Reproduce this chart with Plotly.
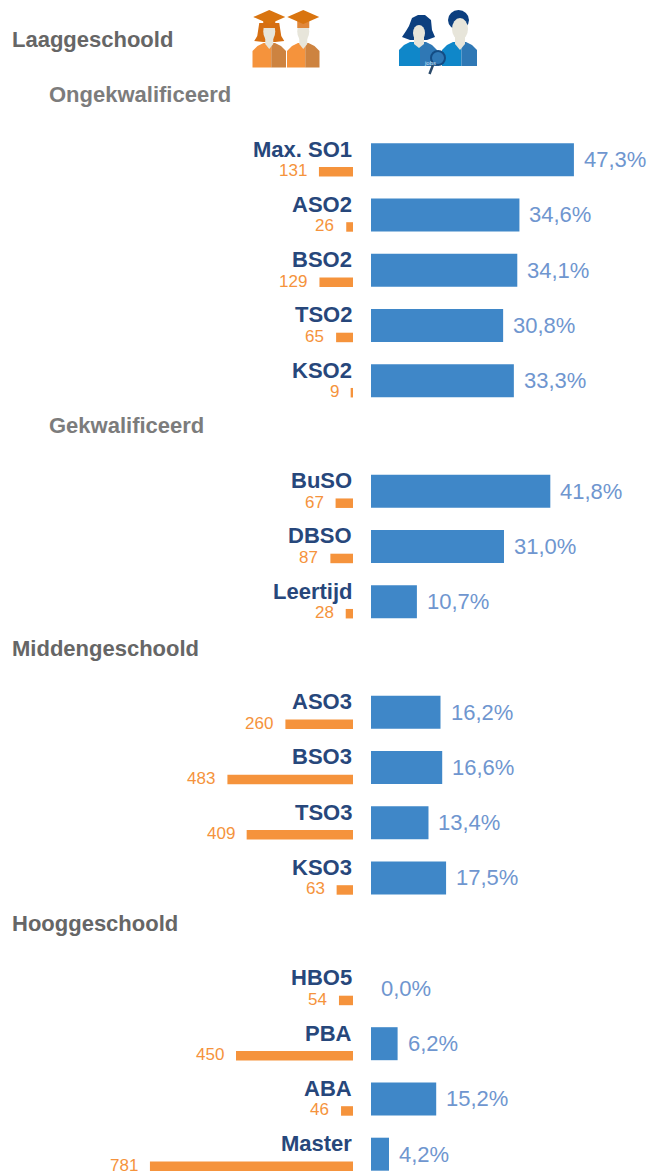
import plotly.graph_objects as go

W, H = 648, 1171
FONT = "Liberation Sans, Arial, sans-serif"

categories = ["Max. SO1", "ASO2", "BSO2", "TSO2", "KSO2",
              "BuSO", "DBSO", "Leertijd",
              "ASO3", "BSO3", "TSO3", "KSO3",
              "HBO5", "PBA", "ABA", "Master"]
rows = [0, 1, 2, 3, 4, 6, 7, 8, 10, 11, 12, 13, 15, 16, 17, 18]
graduates = [131, 26, 129, 65, 9, 67, 87, 28, 260, 483, 409, 63, 54, 450, 46, 781]
job_seekers = [47.3, 34.6, 34.1, 30.8, 33.3, 41.8, 31.0, 10.7,
               16.2, 16.6, 13.4, 17.5, 0.0, 6.2, 15.2, 4.2]
headers = [("Laaggeschoold", 10, 39, "#666666"),
           ("Ongekwalificeerd", 47, 95, "#7c7c7c"),
           ("Gekwalificeerd", 47, 425, "#7c7c7c"),
           ("Middengeschoold", 10, 648, "#666666"),
           ("Hooggeschoold", 10, 923, "#666666")]

BLUE, ORANGE, NAVY, PCT = "#3f87c8", "#f5933c", "#27477b", "#6f96cf"
ROW_PX, ROW0_PX = 55.25, 159.7
BLUE_X0, ORANGE_X1 = 371, 353
PX_PER_PCT, PX_PER_N = 4.29, 0.26
to_row = lambda px: (px - ROW0_PX) / ROW_PX
orange_rows = [r + 12 / ROW_PX for r in rows]
name_rows = [r - 10.5 / ROW_PX for r in rows]

fig = go.Figure()
fig.add_bar(x=job_seekers, y=rows, orientation="h", width=33 / ROW_PX,
            marker=dict(color=BLUE, line_width=0), xaxis="x", yaxis="y")
fig.add_bar(x=graduates, y=orange_rows, orientation="h", width=9.5 / ROW_PX,
            marker=dict(color=ORANGE, line_width=0), xaxis="x2", yaxis="y")

ann = []
for name, r, nr, g, orow, p in zip(categories, rows, name_rows, graduates, orange_rows, job_seekers):
    ann.append(dict(text=f"<b>{name}</b>", xref="paper", yref="y", x=(ORANGE_X1 + 1) / W, y=nr,
                    xanchor="right", yanchor="middle", showarrow=False,
                    font=dict(family=FONT, size=22, color=NAVY)))
    ann.append(dict(text=str(g), xref="x2", yref="y", x=g, y=orow, xshift=-10, yshift=1,
                    xanchor="right", yanchor="middle", showarrow=False,
                    font=dict(family=FONT, size=17, color=ORANGE)))
    ann.append(dict(text=f"{p:.1f}%".replace(".", ","), xref="x", yref="y", x=p, y=r, xshift=8,
                    xanchor="left", yanchor="middle", showarrow=False,
                    font=dict(family=FONT, size=22, color=PCT)))
for text, px, py, col in headers:
    ann.append(dict(text=f"<b>{text}</b>", xref="paper", yref="paper", x=px / W, y=1 - py / H,
                    xanchor="left", yanchor="middle", showarrow=False,
                    font=dict(family=FONT, size=22, color=col)))
ann.append(dict(text="jobs", xref="paper", yref="paper", x=438 / W, y=1 - 58 / H, showarrow=False,
                font=dict(family=FONT, size=6, color="#cfe3f5")))

# pictograms, in page pixels
def P(x, y):
    return f"{x / W:.5f},{1 - y / H:.5f}"
def path(points, color):
    d = "M" + " L".join(P(x, y) for x, y in points) + " Z"
    return dict(type="path", xref="paper", yref="paper", path=d, fillcolor=color, line_width=0)
def oval(x0, y0, x1, y1, color, line=None):
    return dict(type="circle", xref="paper", yref="paper", x0=x0 / W, x1=x1 / W,
                y0=1 - y1 / H, y1=1 - y0 / H, fillcolor=color,
                line=dict(width=2 if line else 0, color=line or color))
def body(x0, x1, y0, y1, c1, c2):
    m = (x0 + x1) / 2 + 2
    return [path([(x0, y1), (x0, y0 + 8), (x0 + 5, y0 + 3), (x0 + 11, y0), (m, y0), (m, y1)], c1),
            path([(m, y1), (m, y0), (x1 - 11, y0), (x1 - 5, y0 + 3), (x1, y0 + 8), (x1, y1)], c2)]
FACE = "#e7e5da"
def grad(x0, x1, long_hair):
    c = (x0 + x1) / 2
    s = []
    if long_hair:
        s.append(path([(c - 10, 23), (c + 10, 23), (c + 12, 36), (c + 15, 41), (c + 6, 42),
                       (c - 6, 42), (c - 15, 41), (c - 12, 36)], "#d66f12"))
    s += body(x0, x1, 43, 67.5, ORANGE, "#cd8340")
    s.append(path([(c - 4, 36), (c + 4, 36), (c + 4, 44), (c, 49), (c - 4, 44)], FACE))
    s.append(oval(c - 6, 22, c + 6, 41, FACE))
    s.append(path([(c - 6, 18), (c + 6, 18), (c + 6, 28), (c - 6, 28)], "#e0873a" if not long_hair else "#d66f12"))
    s.append(path([(c - 16, 17), (c, 10), (c + 16, 17), (c, 24)], "#d9740f"))
    return s

shapes = grad(252.5, 286, True) + grad(287, 319.5, False)
# female job seeker
shapes.append(path([(409, 26), (412, 18), (418, 15), (425, 15), (431, 20), (432, 30), (435, 37),
                    (427, 40), (410, 40), (402, 37), (406, 31)], "#0c3f7f"))
shapes += body(399, 437, 42, 66, "#0f87c9", "#2f78b5")
shapes.append(path([(414, 36), (424, 36), (424, 44), (419, 48), (414, 44)], FACE))
shapes.append(oval(413, 25, 425, 41, FACE))
# male job seeker
shapes.append(oval(448, 10, 469, 30, "#0c3f7f"))
shapes += body(442, 477, 42, 66, "#0f87c9", "#2f78b5")
shapes.append(path([(455, 34), (465, 34), (465, 44), (460, 50), (455, 44)], FACE))
shapes.append(oval(452, 18, 468, 40, FACE))
# magnifier
shapes.append(dict(type="line", xref="paper", yref="paper", x0=433 / W, y0=1 - 65 / H,
                   x1=429.5 / W, y1=1 - 74 / H, line=dict(color="#2b4a6a", width=2.5)))
shapes.append(oval(431, 51, 445, 65, "#2f78b5", "#134c84"))

fig.update_layout(
    width=W, height=H, margin=dict(l=0, r=0, t=0, b=0),
    paper_bgcolor="white", plot_bgcolor="white", showlegend=False, barmode="overlay",
    xaxis=dict(domain=[BLUE_X0 / W, 1], range=[0, (W - BLUE_X0) / PX_PER_PCT], visible=False, fixedrange=True),
    xaxis2=dict(domain=[0, ORANGE_X1 / W], range=[ORANGE_X1 / PX_PER_N, 0], visible=False, fixedrange=True),
    yaxis=dict(domain=[0, 1], range=[to_row(H), to_row(0)], visible=False, fixedrange=True),
    annotations=ann, shapes=shapes,
)
fig.write_html("out.html", config=dict(displayModeBar=False),
               post_script="document.body.style.margin='0';document.documentElement.style.overflow='hidden';")
